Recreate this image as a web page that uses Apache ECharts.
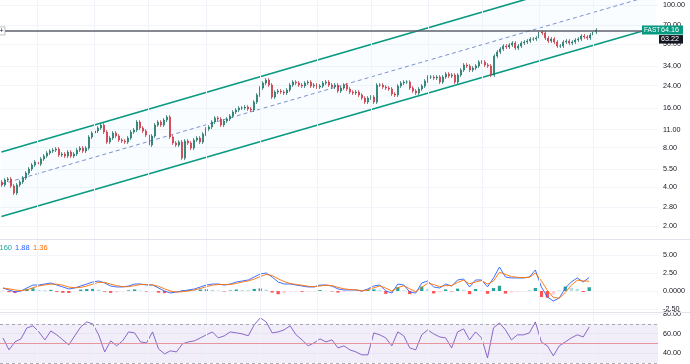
<!DOCTYPE html>
<html><head><meta charset="utf-8">
<script src="https://cdn.jsdelivr.net/npm/echarts@6/dist/echarts.min.js"></script>
<style>html,body{margin:0;padding:0;background:#fff}#c{width:690px;height:364px}</style>
</head><body><div id="c"></div>
<script>
// ---- data ----
const firstOpen = 4.35;
const closes = [4.13,4.51,4.59,4.05,3.58,4.13,4.35,4.67,5.10,5.48,
5.88,6.20,5.98,6.54,6.89,7.27,7.53,7.67,7.80,7.02,
7.14,6.89,7.40,6.89,7.14,7.67,7.94,7.53,7.94,9.65,
10.36,10.73,11.32,11.94,10.55,8.83,9.48,10.36,9.82,9.15,
8.99,8.83,9.48,10.55,10.93,12.59,11.32,10.73,10.00,8.38,
9.82,11.94,12.59,11.94,13.04,13.75,9.65,8.68,8.38,8.83,
6.65,8.99,8.68,7.94,9.15,9.48,8.83,10.18,11.12,11.52,
12.59,13.51,13.27,11.94,12.81,13.27,14.00,15.03,15.57,16.13,
16.13,16.42,15.85,15.57,17.94,20.31,22.99,25.12,26.48,24.24,
19.60,21.41,21.80,21.41,21.04,22.19,24.24,25.56,25.12,24.24,
23.82,25.12,25.56,23.82,24.24,23.40,23.82,25.12,25.56,24.24,
23.40,24.24,21.80,22.99,24.24,22.58,21.41,21.04,21.41,20.31,
19.25,17.94,19.25,19.60,17.94,24.24,24.24,23.40,22.99,22.58,
20.67,20.31,23.82,25.12,25.56,25.56,22.99,21.80,21.04,22.58,
23.82,26.02,27.93,27.93,27.44,27.93,25.56,27.93,29.45,28.43,
28.94,25.56,28.94,31.62,34.55,33.94,31.62,32.76,33.94,36.43,
36.43,34.55,33.94,28.94,40.52,43.49,45.87,48.37,47.52,49.24,
51.01,46.69,48.37,51.01,51.92,52.85,54.76,54.76,55.74,61.99,
60.90,55.74,52.85,54.76,51.92,48.37,48.37,51.92,52.85,51.01,
51.92,53.80,54.76,57.75,56.73,55.74,58.78,61.99,64.16];
const wickPct = 3.5; // typical wick size read from the candles, in percent

const priceTicks = [100,70,50,34,24,16,11,8,5.5,4,2.8,2];
const priceRange = [1.614, 109.3];
const channelUpper = [7.41, 216.8];
const channelMid = [4.19, 121.3];
const channelLower = [2.365, 67.85];
const hLinePrice = 63.22;
const lastPrice = 64.16;
const timeGridIdx = [12,31,49,68,86,105,123,142,160,179,197];

const macd = [0.42,0.14,-0.14,0,0.42,0.83,0.83,0.97,1.11,0.83,
0.56,0.28,0.42,0.69,0.97,1.25,1.39,1.11,0.69,0.56,
0.56,0.69,0.97,0.97,0.83,0.83,0.42,0,-0.28,-0.14,
0,0.14,0.28,0.56,0.83,0.97,0.97,0.83,0.97,1.25,
1.39,1.53,1.94,2.36,2.50,1.94,1.25,0.97,0.97,0.83,
0.69,0.56,0.56,0.83,0.83,0.69,0.28,0.14,0.14,0.14,
0,0.28,0.69,0.83,0,-0.28,0.97,0.83,-0.14,-0.28,
1.11,1.39,0.56,0.42,0.97,0.69,1.53,1.67,0.56,1.53,
1.53,0.56,1.81,3.33,1.94,1.81,1.81,1.81,1.94,2.92,
0.56,-0.83,-1.39,-0.97,0.42,1.25,1.81,1.25,1.88];
const signal = [0.4,0.3,0.15,0.05,0.15,0.45,0.7,0.85,0.95,0.95,
0.8,0.55,0.45,0.5,0.7,0.95,1.2,1.2,0.95,0.75,
0.6,0.6,0.75,0.9,0.9,0.85,0.65,0.3,0.0,-0.15,
-0.1,0.0,0.15,0.35,0.6,0.8,0.9,0.9,0.9,1.05,
1.25,1.4,1.65,2.0,2.3,2.15,1.7,1.3,1.05,0.9,
0.8,0.65,0.6,0.7,0.8,0.75,0.5,0.3,0.2,0.15,
0.05,0.15,0.45,0.7,0.4,0.0,0.45,0.75,0.3,-0.1,
0.5,1.1,0.9,0.6,0.75,0.75,1.2,1.5,1.0,1.25,
1.45,0.95,1.4,2.6,2.3,2.0,1.9,1.85,1.9,2.5,
1.4,0.1,-0.9,-1.0,-0.2,0.8,1.5,1.4,1.36];
const macdTicks = [5,2.5,0,-2.5];
const macdRange = [-2.917, 7.083];

const rsi = [55.6,43.4,51.5,54.6,65.8,67.9,61.7,53.6,62.7,58.7,
53.6,48.5,57.7,66.8,71.9,69.9,58.7,41.3,52.6,47.5,
52.6,61.7,60.7,51.5,50.5,61.7,44.4,39.3,42.4,41.3,
49.5,51.5,52.6,55.6,58.7,61.7,55.6,57.7,61.7,60.7,
59.7,57.7,68.9,76.0,71.9,60.7,61.7,63.8,67.9,58.7,
53.6,47.5,50.5,54.6,51.5,53.6,45.4,47.5,43.4,41.3,
38.3,38.3,60.7,58.7,55.6,47.5,61.7,57.7,45.4,43.4,
58.7,63.8,59.7,56.6,55.6,45.4,61.7,64.8,53.6,61.7,
55.6,35.2,65.8,70.9,63.8,53.6,58.7,58.7,60.7,71.9,
51.5,47.5,37.3,47.5,51.5,55.6,58.7,56.6,66.8];
const rsiTicks = [80,60,40];
const rsiRange = [29, 82];
const rsiBands = [70, 50, 30];
const legendVals = ['0.5160','1.88','1.36'];

// ---- build ----
const N = 219, M = 110;
const cats = Array.from({length:N},(_, i)=>'c'+i);
const icats = Array.from({length:M},(_, j)=>'k'+j);
const L = Math.log10;
const candles = closes.map((c,i)=>{
  const o = i===0 ? firstOpen : closes[i-1];
  const hi = Math.max(o,c)*(1+wickPct/100), lo = Math.min(o,c)*(1-wickPct/100);
  return [L(o),L(c),L(lo),L(hi)];
});
const hist = macd.map((m,j)=>+(m-signal[j]).toFixed(3));
const histData = hist.map((h,j)=>{
  const p = j>0 ? hist[j-1] : h;
  let col;
  if (h>=0) col = h>=p ? '#26a69a' : '#b2dfdb';
  else col = h>p ? '#ffcdd2' : '#ff5252';
  return {value:h, itemStyle:{color:col}};
});

const FONT = 'Liberation Sans';
const lab = {color:'#131722', fontSize:7.2, fontFamily:FONT, margin:5};
function xa(grid, data){return {type:'category', gridIndex:grid, data:data, boundaryGap:true,
  axisLine:{show:false}, axisTick:{show:false}, axisLabel:{show:false}, splitLine:{show:false}};}

const chart = echarts.init(document.getElementById('c'));
const option = {
  animation:false,
  backgroundColor:'#ffffff',
  grid:[
    {left:0,right:32,top:0,height:238},
    {left:0,right:32,top:240,height:72},
    {left:0,right:32,top:312,height:52},
    {left:0,right:32,top:0,height:364}
  ],
  xAxis:[xa(0,cats), xa(1,icats), xa(2,icats), xa(3,cats)],
  yAxis:[
    {type:'value', gridIndex:0, position:'right', min:L(priceRange[0]), max:L(priceRange[1]),
     axisLine:{show:false},
     axisTick:{show:false, customValues:priceTicks.map(L)},
     axisLabel:Object.assign({customValues:priceTicks.map(L), formatter:v=>Math.pow(10,v).toFixed(2)}, lab),
     splitLine:{show:true, lineStyle:{color:'#f2f4f9', width:1}}},
    {type:'value', gridIndex:1, position:'right', min:macdRange[0], max:macdRange[1],
     axisLine:{show:false},
     axisTick:{show:false, customValues:macdTicks},
     axisLabel:Object.assign({customValues:macdTicks, formatter:v=>Math.abs(v)<1e-9?'0.0000':v.toFixed(2)}, lab),
     splitLine:{show:true, lineStyle:{color:'#f2f4f9', width:1}}},
    {type:'value', gridIndex:2, position:'right', min:rsiRange[0], max:rsiRange[1],
     axisLine:{show:false},
     axisTick:{show:false, customValues:rsiTicks},
     axisLabel:Object.assign({customValues:rsiTicks, formatter:v=>v.toFixed(2)}, lab),
     splitLine:{show:true, lineStyle:{color:'#f2f4f9', width:1}}},
    {type:'value', gridIndex:3, min:0, max:1, show:false}
  ],
  series:[
    {type:'line', xAxisIndex:3, yAxisIndex:3, data:[], silent:true, z:0,
     markLine:{silent:true, symbol:'none', label:{show:false},
       lineStyle:{color:'#f0f3fa', type:'solid', width:1},
       data:timeGridIdx.map(i=>({xAxis:cats[i]}))}},
    {type:'custom', xAxisIndex:0, yAxisIndex:0, silent:true, z:1,
     data:[[0]],
     renderItem:function(params, api){
       const a = api.coord([cats[0], L(channelUpper[0])]);
       const b = api.coord([cats[N-1], L(channelUpper[1])]);
       const c = api.coord([cats[N-1], L(channelLower[1])]);
       const d = api.coord([cats[0], L(channelLower[0])]);
       const cs = params.coordSys;
       return {type:'polygon', shape:{points:[a,b,c,d]},
         style:{fill:'rgba(33,150,243,0.022)'},
         clipPath:{type:'rect', shape:{x:cs.x, y:cs.y, width:cs.width, height:cs.height}}};
     }},
    {type:'line', xAxisIndex:0, yAxisIndex:0, symbol:'none', silent:true, z:2,
     data:[[cats[0], L(channelUpper[0])],[cats[N-1], L(channelUpper[1])]],
     lineStyle:{color:'#089981', width:1.6}},
    {type:'line', xAxisIndex:0, yAxisIndex:0, symbol:'none', silent:true, z:2,
     data:[[cats[0], L(channelLower[0])],[cats[N-1], L(channelLower[1])]],
     lineStyle:{color:'#089981', width:1.6}},
    {type:'line', xAxisIndex:0, yAxisIndex:0, symbol:'none', silent:true, z:2,
     data:[[cats[0], L(channelMid[0])],[cats[N-1], L(channelMid[1])]],
     lineStyle:{color:'#6f86c9', width:0.9, type:[4,3]}},
    {type:'candlestick', xAxisIndex:0, yAxisIndex:0, data:candles, z:3, barMaxWidth:1.6,
     itemStyle:{color:'#089981', color0:'#f23645', borderColor:'#1b6d5e', borderColor0:'#c2303d', borderWidth:0.7},
     markLine:{silent:true, symbol:'none', label:{show:false},
       lineStyle:{color:'#5d606b', type:'solid', width:1.5},
       data:[{yAxis:L(hLinePrice)}]}},
    {type:'bar', xAxisIndex:1, yAxisIndex:1, data:histData, barWidth:'55%', z:2},
    {type:'line', xAxisIndex:1, yAxisIndex:1, data:macd, symbol:'none', z:3,
     lineStyle:{color:'#2962ff', width:0.9}},
    {type:'line', xAxisIndex:1, yAxisIndex:1, data:signal, symbol:'none', z:3,
     lineStyle:{color:'#ff6d00', width:0.9}},
    {type:'line', xAxisIndex:2, yAxisIndex:2, data:rsi, symbol:'none', z:3,
     lineStyle:{color:'#7e57c2', width:0.9},
     markArea:{silent:true, itemStyle:{color:'rgba(126,87,194,0.1)'},
       data:[[{yAxis:rsiBands[2]},{yAxis:rsiBands[0]}]]},
     markLine:{silent:true, symbol:'none', label:{show:false},
       data:[
         {yAxis:rsiBands[0], lineStyle:{color:'#9598a1', type:[3,3], width:0.8}},
         {yAxis:rsiBands[1], lineStyle:{color:'#e58b95', type:'solid', width:0.9}},
         {yAxis:rsiBands[2], lineStyle:{color:'#9598a1', type:[3,3], width:0.8}}
       ]}}
  ]
};
chart.setOption(option);

// price-scale labels and separators placed from the axes
const yLast = chart.convertToPixel({yAxisIndex:0}, L(lastPrice));
const yH = chart.convertToPixel({yAxisIndex:0}, L(hLinePrice));
const yMacdTop = chart.convertToPixel({yAxisIndex:1}, macdRange[1]);
const yRsiTop = chart.convertToPixel({yAxisIndex:2}, rsiRange[1]);
chart.setOption({graphic:[
  {type:'line', shape:{x1:0,y1:yMacdTop-0.5,x2:690,y2:yMacdTop-0.5}, style:{stroke:'#e0e3eb', lineWidth:1}, z:10},
  {type:'line', shape:{x1:0,y1:yRsiTop+0.5,x2:690,y2:yRsiTop+0.5}, style:{stroke:'#e0e3eb', lineWidth:1}, z:10},
  {type:'rect', shape:{x:-2,y:yH-4,width:7,height:8}, style:{fill:'#fff', stroke:'#9598a1', lineWidth:0.6}, z:10},
  {type:'text', x:1.5, y:yH, style:{text:'+', fill:'#131722', fontSize:7, fontFamily:FONT, align:'center', verticalAlign:'middle'}, z:11},
  {type:'rect', shape:{x:642,y:yLast-4.5,width:41,height:9}, style:{fill:'#089981'}, z:10},
  {type:'text', x:644, y:yLast, style:{text:'FAST', fill:'#fff', fontSize:6.5, fontFamily:FONT, verticalAlign:'middle'}, z:11},
  {type:'text', x:661, y:yLast, style:{text:lastPrice.toFixed(2), fill:'#fff', fontSize:7.2, fontFamily:FONT, verticalAlign:'middle'}, z:11},
  {type:'rect', shape:{x:659,y:yLast+5,width:24,height:8.5}, style:{fill:'#131722'}, z:10},
  {type:'text', x:661, y:yLast+9.3, style:{text:hLinePrice.toFixed(2), fill:'#fff', fontSize:7.2, fontFamily:FONT, verticalAlign:'middle'}, z:11},
  {type:'text', x:12, y:yMacdTop+8, style:{text:legendVals[0], fill:'#26a69a', fontSize:7.5, fontFamily:FONT, align:'right', verticalAlign:'middle'}, z:11},
  {type:'text', x:15, y:yMacdTop+8, style:{text:legendVals[1], fill:'#2962ff', fontSize:7.5, fontFamily:FONT, verticalAlign:'middle'}, z:11},
  {type:'text', x:33, y:yMacdTop+8, style:{text:legendVals[2], fill:'#ff6d00', fontSize:7.5, fontFamily:FONT, verticalAlign:'middle'}, z:11}
]});
</script></body></html>
